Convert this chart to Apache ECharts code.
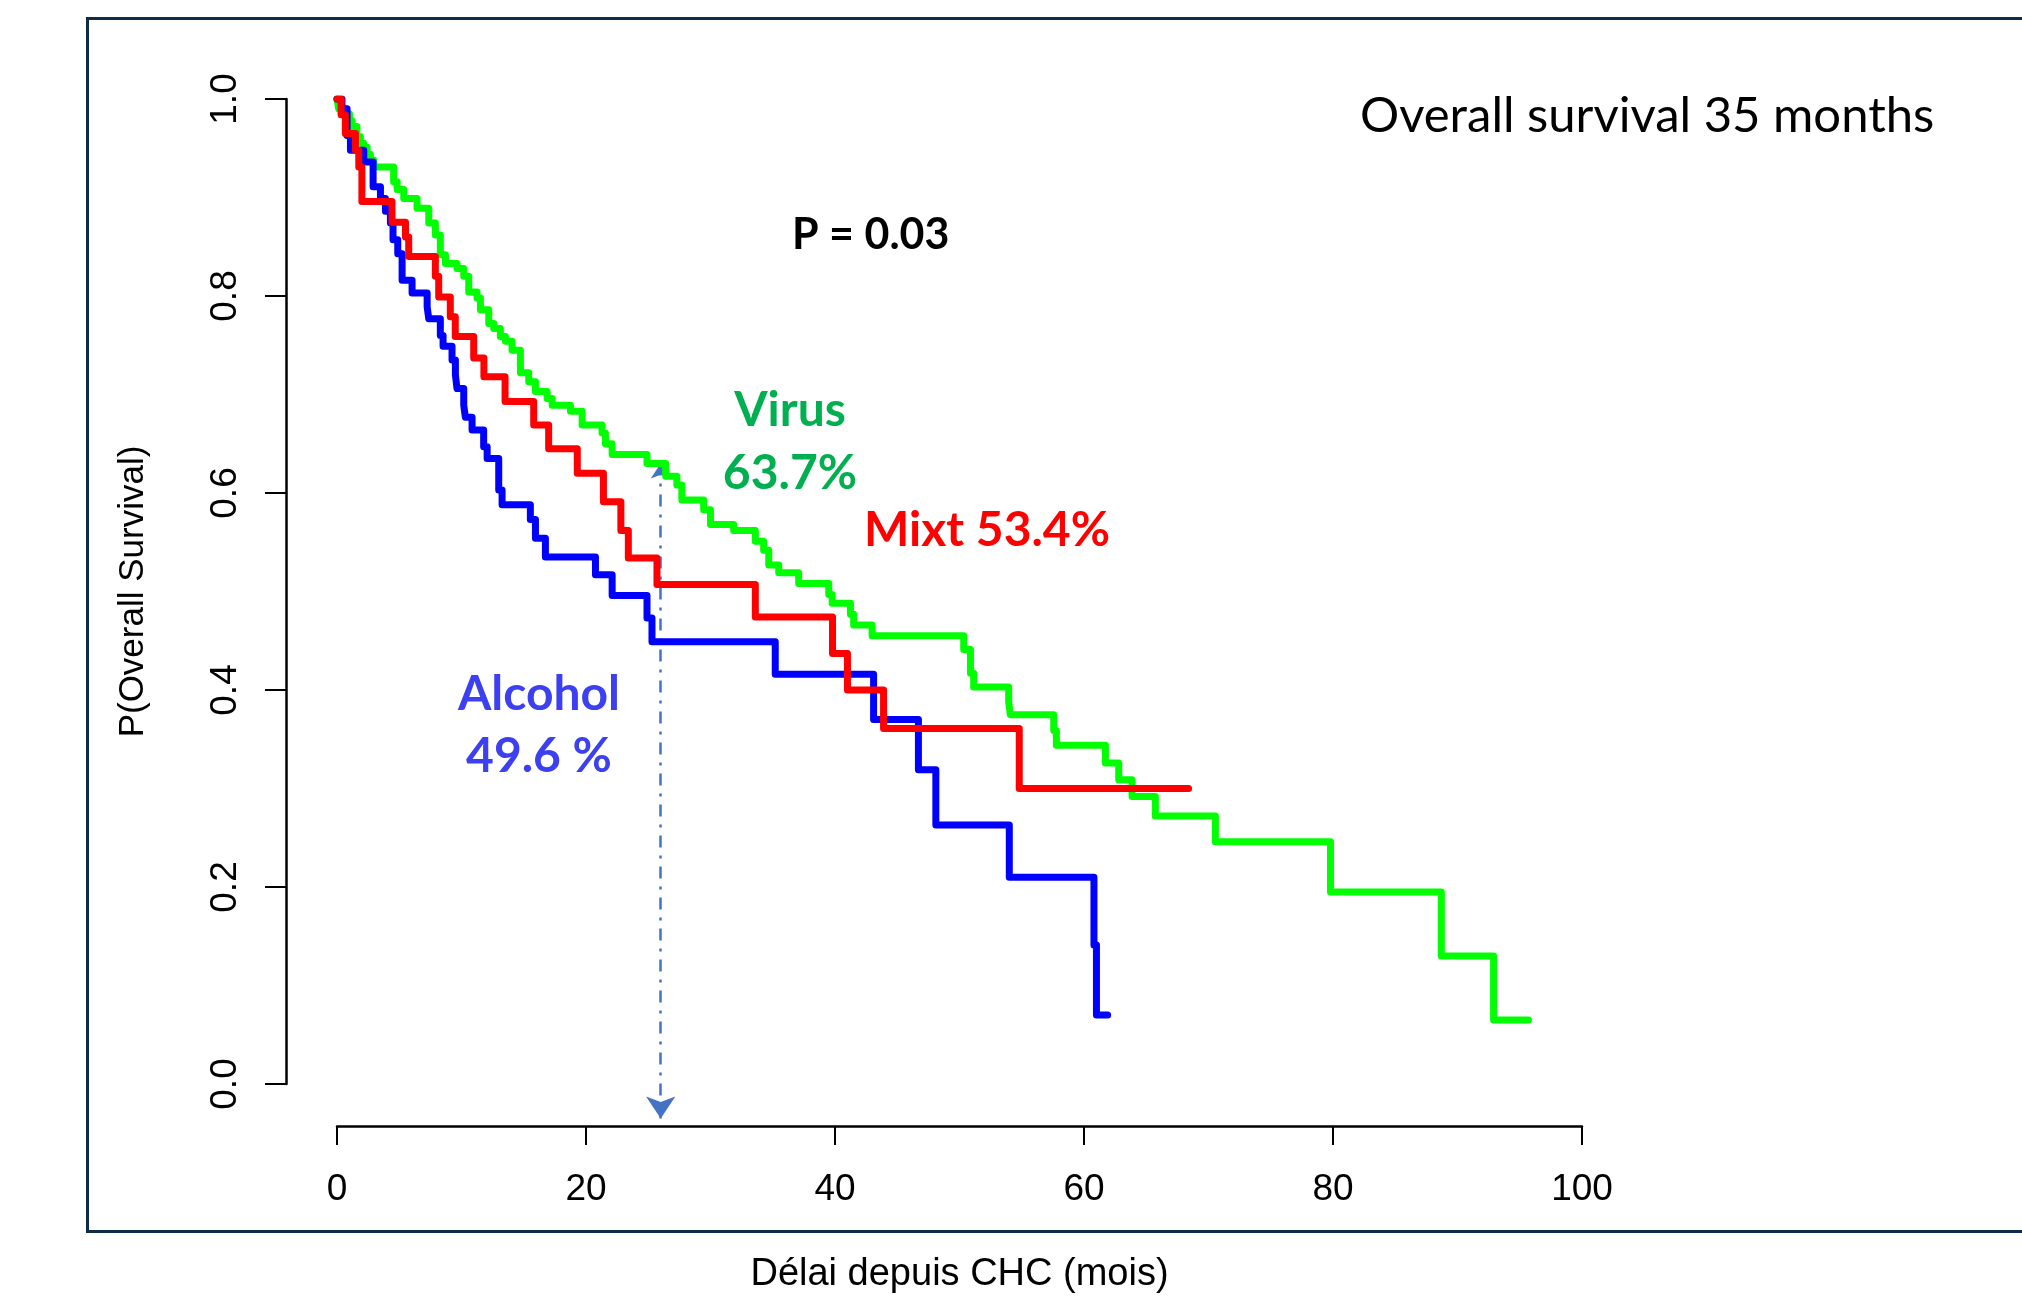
<!DOCTYPE html>
<html>
<head>
<meta charset="utf-8">
<script src="https://cdn.jsdelivr.net/npm/echarts@6/dist/echarts.min.js"></script>
<style>
  html, body { margin: 0; background: #fff; }
  #main { width: 2022px; height: 1305px; }
</style>
</head>
<body>
<div id="main"></div>
<script>
// x / y ticks
var xTicks = [0, 20, 40, 60, 80, 100];
var yTicks = [0, 0.2, 0.4, 0.6, 0.8, 1.0];

// Kaplan-Meier steps: at each time the survival drops to the value
var alcoholTime = [0, 0.4, 0.81, 1.08, 2.15, 2.9, 3.49, 3.89, 4.29, 4.5, 4.88, 5.23, 6.03, 7.24, 7.37, 8.3, 8.52, 9.24, 9.51, 9.64, 10.18, 10.31, 10.85, 11.78, 12.06, 12.99, 13.26, 15.53, 15.94, 16.74, 20.76, 22.1, 24.9, 25.3, 35.2, 43.1, 46.7, 48.1, 54.0, 60.8, 61.0, 61.9];
var alcoholSurv = [1.0, 0.990, 0.963, 0.948, 0.936, 0.911, 0.899, 0.886, 0.874, 0.857, 0.843, 0.816, 0.803, 0.789, 0.777, 0.760, 0.749, 0.735, 0.720, 0.706, 0.689, 0.677, 0.664, 0.647, 0.635, 0.603, 0.588, 0.573, 0.554, 0.535, 0.517, 0.496, 0.473, 0.449, 0.416, 0.370, 0.319, 0.263, 0.210, 0.141, 0.070, 0.070];

var mixtTime = [0, 0.33, 0.67, 1.48, 1.75, 2.0, 4.42, 5.5, 5.76, 7.9, 8.17, 9.1, 9.5, 10.98, 11.8, 13.5, 15.8, 17.0, 19.3, 21.4, 22.8, 23.4, 25.7, 33.6, 39.8, 41.0, 43.9, 54.8, 68.4];
var mixtSurv = [1.0, 0.984, 0.965, 0.948, 0.931, 0.896, 0.875, 0.860, 0.840, 0.820, 0.799, 0.779, 0.759, 0.737, 0.718, 0.693, 0.669, 0.645, 0.620, 0.591, 0.562, 0.534, 0.507, 0.474, 0.437, 0.400, 0.361, 0.300, 0.300];

var virusTime = [0, 0.14, 0.6, 1.0, 1.21, 1.6, 1.88, 2.15, 2.42, 2.68, 2.95, 4.55, 4.83, 5.36, 6.43, 7.37, 7.9, 8.3, 8.71, 9.64, 10.18, 10.58, 11.25, 11.52, 12.19, 12.59, 13.12, 13.53, 14.06, 14.73, 15.4, 15.94, 16.88, 17.28, 18.75, 19.69, 21.29, 21.56, 22.1, 24.9, 26.4, 27.3, 27.7, 29.45, 30.0, 31.86, 33.6, 34.27, 34.68, 35.48, 37.08, 39.5, 39.77, 41.24, 41.5, 42.98, 50.34, 50.88, 51.14, 53.95, 54.08, 57.57, 57.78, 61.72, 62.79, 63.86, 65.73, 70.55, 79.8, 88.7, 92.9, 95.7];
var virusSurv = [1.0, 0.990, 0.985, 0.978, 0.972, 0.962, 0.955, 0.951, 0.944, 0.938, 0.931, 0.916, 0.908, 0.899, 0.889, 0.874, 0.862, 0.842, 0.833, 0.828, 0.820, 0.804, 0.798, 0.786, 0.772, 0.767, 0.759, 0.754, 0.745, 0.722, 0.713, 0.703, 0.696, 0.689, 0.683, 0.669, 0.661, 0.650, 0.639, 0.630, 0.617, 0.608, 0.593, 0.583, 0.568, 0.562, 0.551, 0.542, 0.527, 0.519, 0.508, 0.497, 0.488, 0.477, 0.466, 0.455, 0.441, 0.417, 0.403, 0.388, 0.375, 0.359, 0.344, 0.326, 0.309, 0.292, 0.272, 0.246, 0.195, 0.130, 0.065, 0.065];

// dashed arrow marking the time point (tips)
var arrowTime = 26;
var arrowTop = 0.630;
var arrowBottom = -0.035;

function zip(t, s) {
  return t.map(function (v, i) { return [v, s[i]]; });
}

function kmSeries(name, color, data) {
  return {
    name: name,
    type: "line",
    step: "end",
    showSymbol: false,
    silent: true,
    lineStyle: { color: color, width: 7, cap: "round", join: "round" },
    data: data,
  };
}

var axisFont = "Liberation Sans, Arial, sans-serif";
var noteFont = "Lato, Calibri, sans-serif";

var option = {
  animation: false,
  backgroundColor: "#fff",
  grid: { left: 337, right: 440, top: 99, bottom: 221 },
  xAxis: {
    type: "value",
    min: 0,
    max: 100,
    interval: 20,
    offset: 42,
    name: "Délai depuis CHC (mois)",
    nameLocation: "middle",
    nameGap: 130,
    nameTextStyle: { fontFamily: axisFont, fontSize: 38, color: "#000" },
    axisLine: { show: true, onZero: false, lineStyle: { color: "#000", width: 2.5 } },
    axisTick: { show: true, length: 19, lineStyle: { color: "#000", width: 2 } },
    axisLabel: {
      fontFamily: axisFont, fontSize: 37, color: "#000", margin: 45,
      formatter: function (v) { return xTicks.indexOf(v) >= 0 ? String(v) : ""; },
    },
    splitLine: { show: false },
  },
  yAxis: {
    type: "value",
    min: 0,
    max: 1,
    interval: 0.2,
    offset: 51,
    name: "P(Overall Survival)",
    nameLocation: "middle",
    nameGap: 135,
    nameTextStyle: { fontFamily: axisFont, fontSize: 35, color: "#000" },
    axisLine: { show: true, onZero: false, lineStyle: { color: "#000", width: 2.5 } },
    axisTick: { show: true, length: 21, lineStyle: { color: "#000", width: 2 } },
    axisLabel: {
      fontFamily: axisFont, fontSize: 37, color: "#000", margin: 42, rotate: 90,
      formatter: function (v) {
        var k = yTicks.findIndex(function (t) { return Math.abs(t - v) < 1e-9; });
        return k >= 0 ? yTicks[k].toFixed(1) : "";
      },
    },
    splitLine: { show: false },
  },
  series: [
    kmSeries("Virus", "#00ff00", zip(virusTime, virusSurv)),
    kmSeries("Alcohol", "#0000ff", zip(alcoholTime, alcoholSurv)),
    kmSeries("Mixt", "#ff0000", zip(mixtTime, mixtSurv)),
    {
      type: "lines",
      coordinateSystem: "cartesian2d",
      clip: false,
      silent: true,
      symbol: ["arrow", "arrow"],
      symbolSize: [15, 22],
      lineStyle: { color: "#4472c4", width: 2.5, type: [12, 8, 3, 8], opacity: 1 },
      data: [{ coords: [[arrowTime, arrowTop], [arrowTime, arrowBottom]] }],
    },
  ],
  graphic: [
    {
      type: "rect",
      silent: true,
      shape: { x: 87.5, y: 18.5, width: 2100, height: 1213 },
      style: { fill: null, stroke: "#0d2c47", lineWidth: 3 },
    },
    {
      type: "text", left: 1360, top: 92, silent: true,
      style: { text: "Overall survival 35 months", font: "49px " + noteFont, fill: "#000" },
    },
    {
      type: "text", left: 792, top: 214, silent: true,
      style: { text: "P = 0.03", font: "bold 43px " + noteFont, fill: "#000" },
    },
    {
      type: "text", x: 790, y: 411, silent: true,
      style: { text: "Virus", font: "bold 48px " + noteFont, fill: "#00b050", align: "center", verticalAlign: "middle" },
    },
    {
      type: "text", x: 790, y: 474, silent: true,
      style: { text: "63.7%", font: "bold 48px " + noteFont, fill: "#00b050", align: "center", verticalAlign: "middle" },
    },
    {
      type: "text", x: 864, y: 531, silent: true,
      style: { text: "Mixt 53.4%", font: "bold 48px " + noteFont, fill: "#ff0000", align: "left", verticalAlign: "middle" },
    },
    {
      type: "text", x: 539, y: 695, silent: true,
      style: { text: "Alcohol", font: "bold 48px " + noteFont, fill: "#3c40f0", align: "center", verticalAlign: "middle" },
    },
    {
      type: "text", x: 539, y: 757, silent: true,
      style: { text: "49.6 %", font: "bold 48px " + noteFont, fill: "#3c40f0", align: "center", verticalAlign: "middle" },
    },
  ],
};

var chart = echarts.init(document.getElementById("main"), null, { renderer: "canvas" });
chart.setOption(option);
</script>
</body>
</html>
